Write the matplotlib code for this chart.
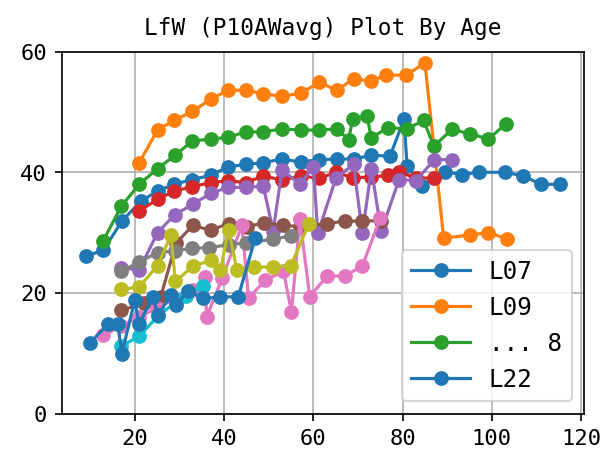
import matplotlib
matplotlib.use("Agg")
import matplotlib.pyplot as plt

plt.rcParams['font.family'] = ['DejaVu Sans Mono']

# ages (x) and LfW values (y) per subject
x_l07 = [9, 13, 17.2, 21.4, 25.1, 28.8, 32.9, 37.0, 40.9, 44.9, 48.8, 53.0, 57.2, 61.3,
         65.3, 69.0, 73.0, 77.2, 80.3, 81.0, 84.3, 89.4, 93.3, 97, 103, 107, 111, 115.3]
y_l07 = [26.1, 27.1, 32.0, 35.2, 36.9, 38.0, 38.8, 39.5, 40.9, 41.3, 41.6, 42.2, 41.7, 42.1,
         42.2, 42.2, 42.8, 42.7, 48.8, 41.1, 37.8, 40.1, 39.6, 40.0, 40.0, 39.4, 38.0, 38.0]

x_l09 = [21.0, 25.1, 28.8, 32.9, 37.0, 40.9, 44.9, 48.8, 53.0, 57.2, 61.3, 65.3, 69.0, 72.9,
         76.2, 80.7, 85.0, 89.2, 95.1, 99.2, 103.3]
y_l09 = [41.6, 47.0, 48.6, 50.1, 52.1, 53.6, 53.6, 53.0, 52.6, 53.1, 54.9, 53.6, 55.5, 55.1,
         56.1, 56.1, 58.1, 29.1, 29.6, 30.0, 29.0]

x_s3 = [12.9, 17.0, 21.0, 25.1, 29.0, 32.9, 37.0, 40.9, 44.9, 48.8, 53.0, 57.2, 61.3, 65.3,
        67.9, 68.8, 72.0, 73.0, 76.7, 81.0, 84.7, 87.0, 91.0, 95.1, 99.2, 103.1]
y_s3 = [28.6, 34.4, 38.0, 40.6, 42.8, 45.2, 45.5, 45.8, 46.7, 46.7, 47.2, 47.0, 47.0, 47.2,
        45.4, 48.8, 49.4, 45.7, 47.4, 47.2, 48.6, 44.3, 47.1, 46.4, 45.5, 48.0]

x_s4 = [21.0, 25.1, 28.8, 32.9, 37.0, 40.9, 44.9, 48.8, 53.0, 57.2, 61.3, 65.1, 68.8, 73.0,
        76.7, 79.2, 82.9, 87.1]
y_s4 = [33.6, 35.5, 36.9, 37.6, 38.3, 38.6, 38.3, 39.4, 38.7, 39.4, 39.0, 40.0, 39.1, 39.2,
        39.5, 40.0, 39.1, 39.0]

x_s5 = [17.0, 21.0, 25.1, 29.0, 33.0, 37.0, 40.9, 44.9, 48.8, 51.0, 53.0, 57.0, 60.0, 61.0,
        65.1, 69.0, 71.0, 73.0, 75.2, 79.2, 83.0, 87.1, 91.0]
y_s5 = [24.2, 23.8, 30.0, 33.0, 34.7, 36.5, 37.5, 37.5, 37.7, 30.3, 40.4, 38.0, 40.9, 29.9,
        39.1, 41.3, 29.9, 40.6, 30.2, 38.8, 38.6, 42.1, 42.1]

x_s6 = [17.0, 22.0, 25.8, 29.2, 33.0, 37.0, 41.0, 45.1, 49.0, 53.1, 57.0, 63.0, 67.0, 71.0, 75.1]
y_s6 = [17.1, 18.3, 19.3, 28.2, 31.2, 30.4, 31.5, 31.0, 31.6, 31.2, 31.0, 31.5, 31.9, 31.9, 32.0]

x_s7 = [13.0, 17.0, 21.0, 25.0, 29.0, 33.0, 35.8, 36.1, 39.6, 44.0, 45.5, 49.2, 53.3, 55.1,
        57.0, 59.2, 63.1, 67.1, 71.0, 75.0]
y_s7 = [13.0, 14.5, 16.0, 17.5, 19.0, 20.5, 22.7, 16.0, 22.5, 31.2, 19.1, 22.1, 23.6, 16.9,
        32.2, 19.4, 22.8, 22.8, 24.5, 32.4]

x_s8 = [17.0, 21.0, 25.1, 29.0, 32.9, 36.6, 41.0, 45.0, 51.0, 55.1]
y_s8 = [23.6, 25.1, 26.7, 27.0, 27.4, 27.5, 28.0, 28.3, 28.9, 29.5]

x_s9 = [17.0, 21.0, 25.1, 28.1, 29.1, 33.0, 37.0, 39.2, 41.0, 42.9, 46.8, 51.0, 55.0, 59.0]
y_s9 = [20.6, 21.0, 24.5, 29.6, 21.9, 24.4, 25.4, 23.8, 30.5, 23.8, 24.3, 24.3, 24.5, 31.5]

x_s10 = [17.0, 21.0, 25.1, 29.2, 31.5, 35.2]
y_s10 = [11.2, 12.8, 16.1, 18.5, 19.5, 21.1]

x_l22 = [9.9, 14.0, 16.2, 17.1, 20.0, 21.0, 24.0, 25.2, 28.1, 29.2, 32.0, 35.2, 39.2, 43.2, 47.0]
y_l22 = [11.7, 14.8, 14.9, 9.9, 18.8, 14.8, 19.4, 16.3, 19.7, 18.0, 20.4, 19.1, 19.3, 19.4, 29.1]

series = [(x_l07, y_l07), (x_l09, y_l09), (x_s3, y_s3), (x_s4, y_s4), (x_s5, y_s5),
          (x_s6, y_s6), (x_s7, y_s7), (x_s8, y_s8), (x_s9, y_s9), (x_s10, y_s10),
          (x_l22, y_l22)]
legend_labels = ['L07', 'L09', '... 8', 'L22']
y_ticks = [0, 20, 40, 60]

fig, ax = plt.subplots(figsize=(4, 3), dpi=151.75)
fig.subplots_adjust(left=0.102, right=0.962, top=0.886, bottom=0.091)

lines = []
for xs, ys in series:
    ln, = ax.plot(xs, ys, marker='o')
    lines.append(ln)

ax.set_ylim(0, 60)
ax.set_yticks(y_ticks)
ax.tick_params(labelsize=10.5)
ax.grid()
ax.set_title('LfW (P10AWavg) Plot By Age', fontsize=10.8, pad=8)
ax.legend([lines[0], lines[1], lines[2], lines[-1]], legend_labels,
          loc='lower right', fontsize=11.5, handlelength=2.4)

fig.savefig('out.png', dpi=151.75)
